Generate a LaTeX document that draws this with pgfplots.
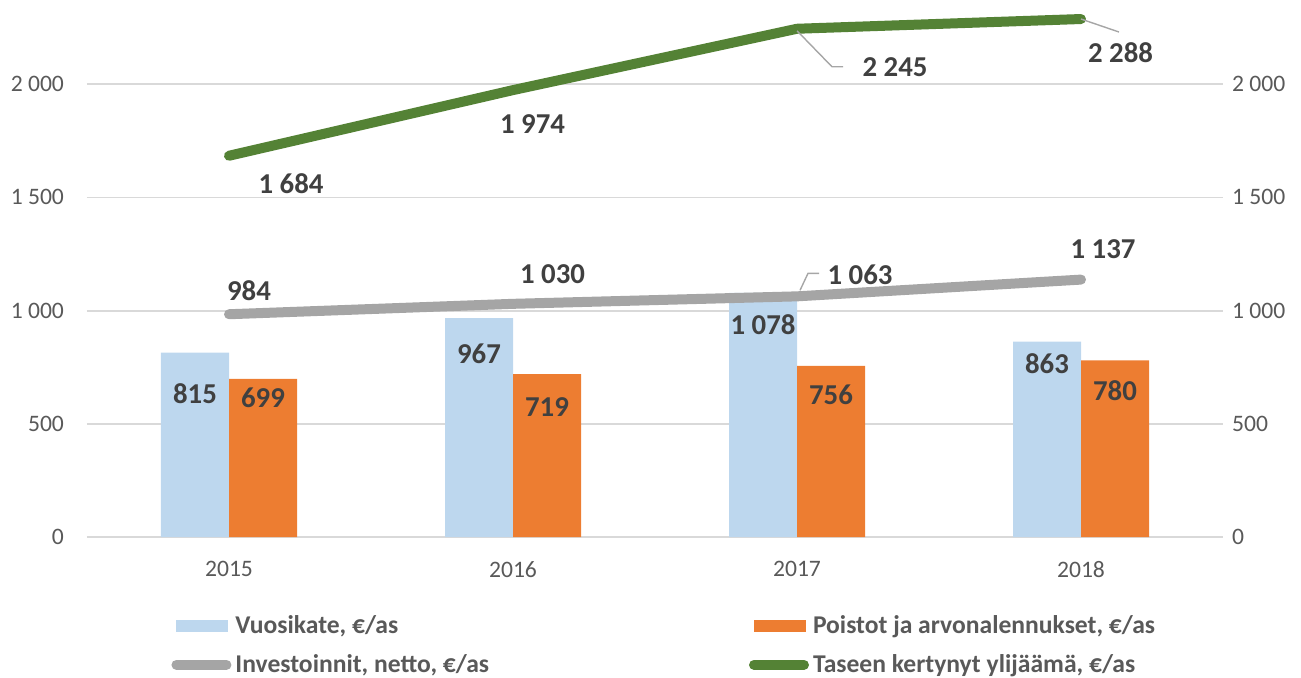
\documentclass[border=0pt]{standalone}
\usepackage{fontspec}
\setmainfont{Carlito}
\usepackage{pgfplots}
\usepackage{pgfplotstable}
\pgfplotsset{compat=1.18}
\definecolor{vkblue}{HTML}{BDD7EE}
\definecolor{poorange}{HTML}{ED7D31}
\definecolor{invgray}{HTML}{A5A5A5}
\definecolor{taseen}{HTML}{548235}
\definecolor{gridc}{HTML}{D9D9D9}
\definecolor{ticktxt}{HTML}{595959}
\definecolor{labtxt}{HTML}{404040}
\definecolor{leader}{HTML}{A6A6A6}

% x, value, label offset from the point (pt)
\pgfplotstableread{
x y dx dy
0 815 -17 -20.75
1 967 -17 -17.75
2 1078 -17 -16
3 863 -17 -11
}\vuosikate
\pgfplotstableread{
x y dx dy
0 699 17 -9.5
1 719 17 -16.5
2 756 17 -14.5
3 780 17 -15
}\poistot
\pgfplotstableread{
x y dx dy
0 984 10 12
1 1030 19.75 15
2 1063 31.5 11
3 1137 11 15.25
}\investoinnit
\pgfplotstableread{
x y dx dy
0 1684 31 -14
1 1974 9.75 -16.75
2 2245 49 -19
3 2288 19.75 -17
}\taseen

\pgfplotsset{
  /pgf/number format/1000 sep={\ },
  vlabels/.style={
    nodes near coords,
    visualization depends on={\thisrow{dx} \as \lblx},
    visualization depends on={\thisrow{dy} \as \lbly},
    every node near coord/.append style={anchor=center, xshift=\lblx pt, yshift=\lbly pt,
      font=\fontsize{14.4}{17}\selectfont\bfseries, text=labtxt, inner sep=0pt},
  },
  common/.style={
    scale only axis, width=568pt, height=268.5pt,
    xmin=-0.5, xmax=3.5, ymin=0, ymax=2372,
    axis line style={draw=none},
    major tick length=0pt,
    ytick={0,500,1000,1500,2000},
    tick label style={font=\fontsize{11.8}{14}\selectfont, text=ticktxt},
    /pgf/number format/assume math mode=true,
  },
}

\begin{document}
\begin{tikzpicture}
\begin{axis}[
  common,
  xtick={0,1,2,3}, xticklabels={2015,2016,2017,2018},
  ymajorgrids, grid style={gridc, line width=0.9pt},
  xticklabel style={yshift=-8.5pt},
  yticklabel style={xshift=-8pt},
  clip=false,
  legend columns=2,
  legend cell align=left,
  legend style={at={(axis description cs:0.0775,-0.132)}, anchor=north west,
    xshift=-2pt, yshift=-1.5pt,
    draw=none, fill=none, inner sep=0pt, row sep=5pt,
    nodes={inner sep=2pt},
    font=\fontsize{12.8}{15}\selectfont\bfseries, text=ticktxt,
    /tikz/every even column/.append style={column sep=128pt}},
]
\addplot[ybar, bar width=34pt, bar shift=-17pt, fill=vkblue, draw=none, vlabels,
  legend image code/.code={\fill[vkblue] (0pt,-3pt) rectangle (26pt,3pt);}]
  table[x=x, y=y] {\vuosikate};
\addlegendentry{Vuosikate, €/as}
\addplot[ybar, bar width=34pt, bar shift=17pt, fill=poorange, draw=none, vlabels,
  legend image code/.code={\fill[poorange] (0pt,-3pt) rectangle (26pt,3pt);}]
  table[x=x, y=y] {\poistot};
\addlegendentry{Poistot ja arvonalennukset, €/as}
\addplot[sharp plot, invgray, line width=5pt, line cap=round, line join=round, vlabels,
  legend image code/.code={\draw[invgray, line width=5pt, line cap=round] (0pt,0pt) -- (25pt,0pt);}]
  table[x=x, y=y] {\investoinnit};
\addlegendentry{Investoinnit, netto, €/as}
\addplot[sharp plot, taseen, line width=5pt, line cap=round, line join=round, vlabels,
  legend image code/.code={\draw[taseen, line width=5pt, line cap=round] (0pt,0pt) -- (25pt,0pt);}]
  table[x=x, y=y] {\taseen};
\addlegendentry{Taseen kertynyt ylijäämä, €/as}
% leader lines of the moved labels
\draw[leader, line width=0.7pt] (axis cs:2,2245) ++(0pt,-1pt) -- ++(17.5pt,-18pt) -- ++(5.5pt,0pt);
\draw[leader, line width=0.7pt] (axis cs:3,2288) -- ++(19pt,-6.5pt);
\draw[leader, line width=0.7pt] (axis cs:2,1063) ++(1.5pt,3pt) -- ++(4pt,8.5pt) -- ++(5.5pt,0pt);
\end{axis}
\begin{axis}[
  common,
  axis x line=none, axis y line*=right,
  yticklabel style={xshift=1pt},
]
\end{axis}
\pgfresetboundingbox
\path[use as bounding box] (-43.5pt,-70pt) rectangle (607pt,268.5pt);
\end{tikzpicture}
\end{document}
